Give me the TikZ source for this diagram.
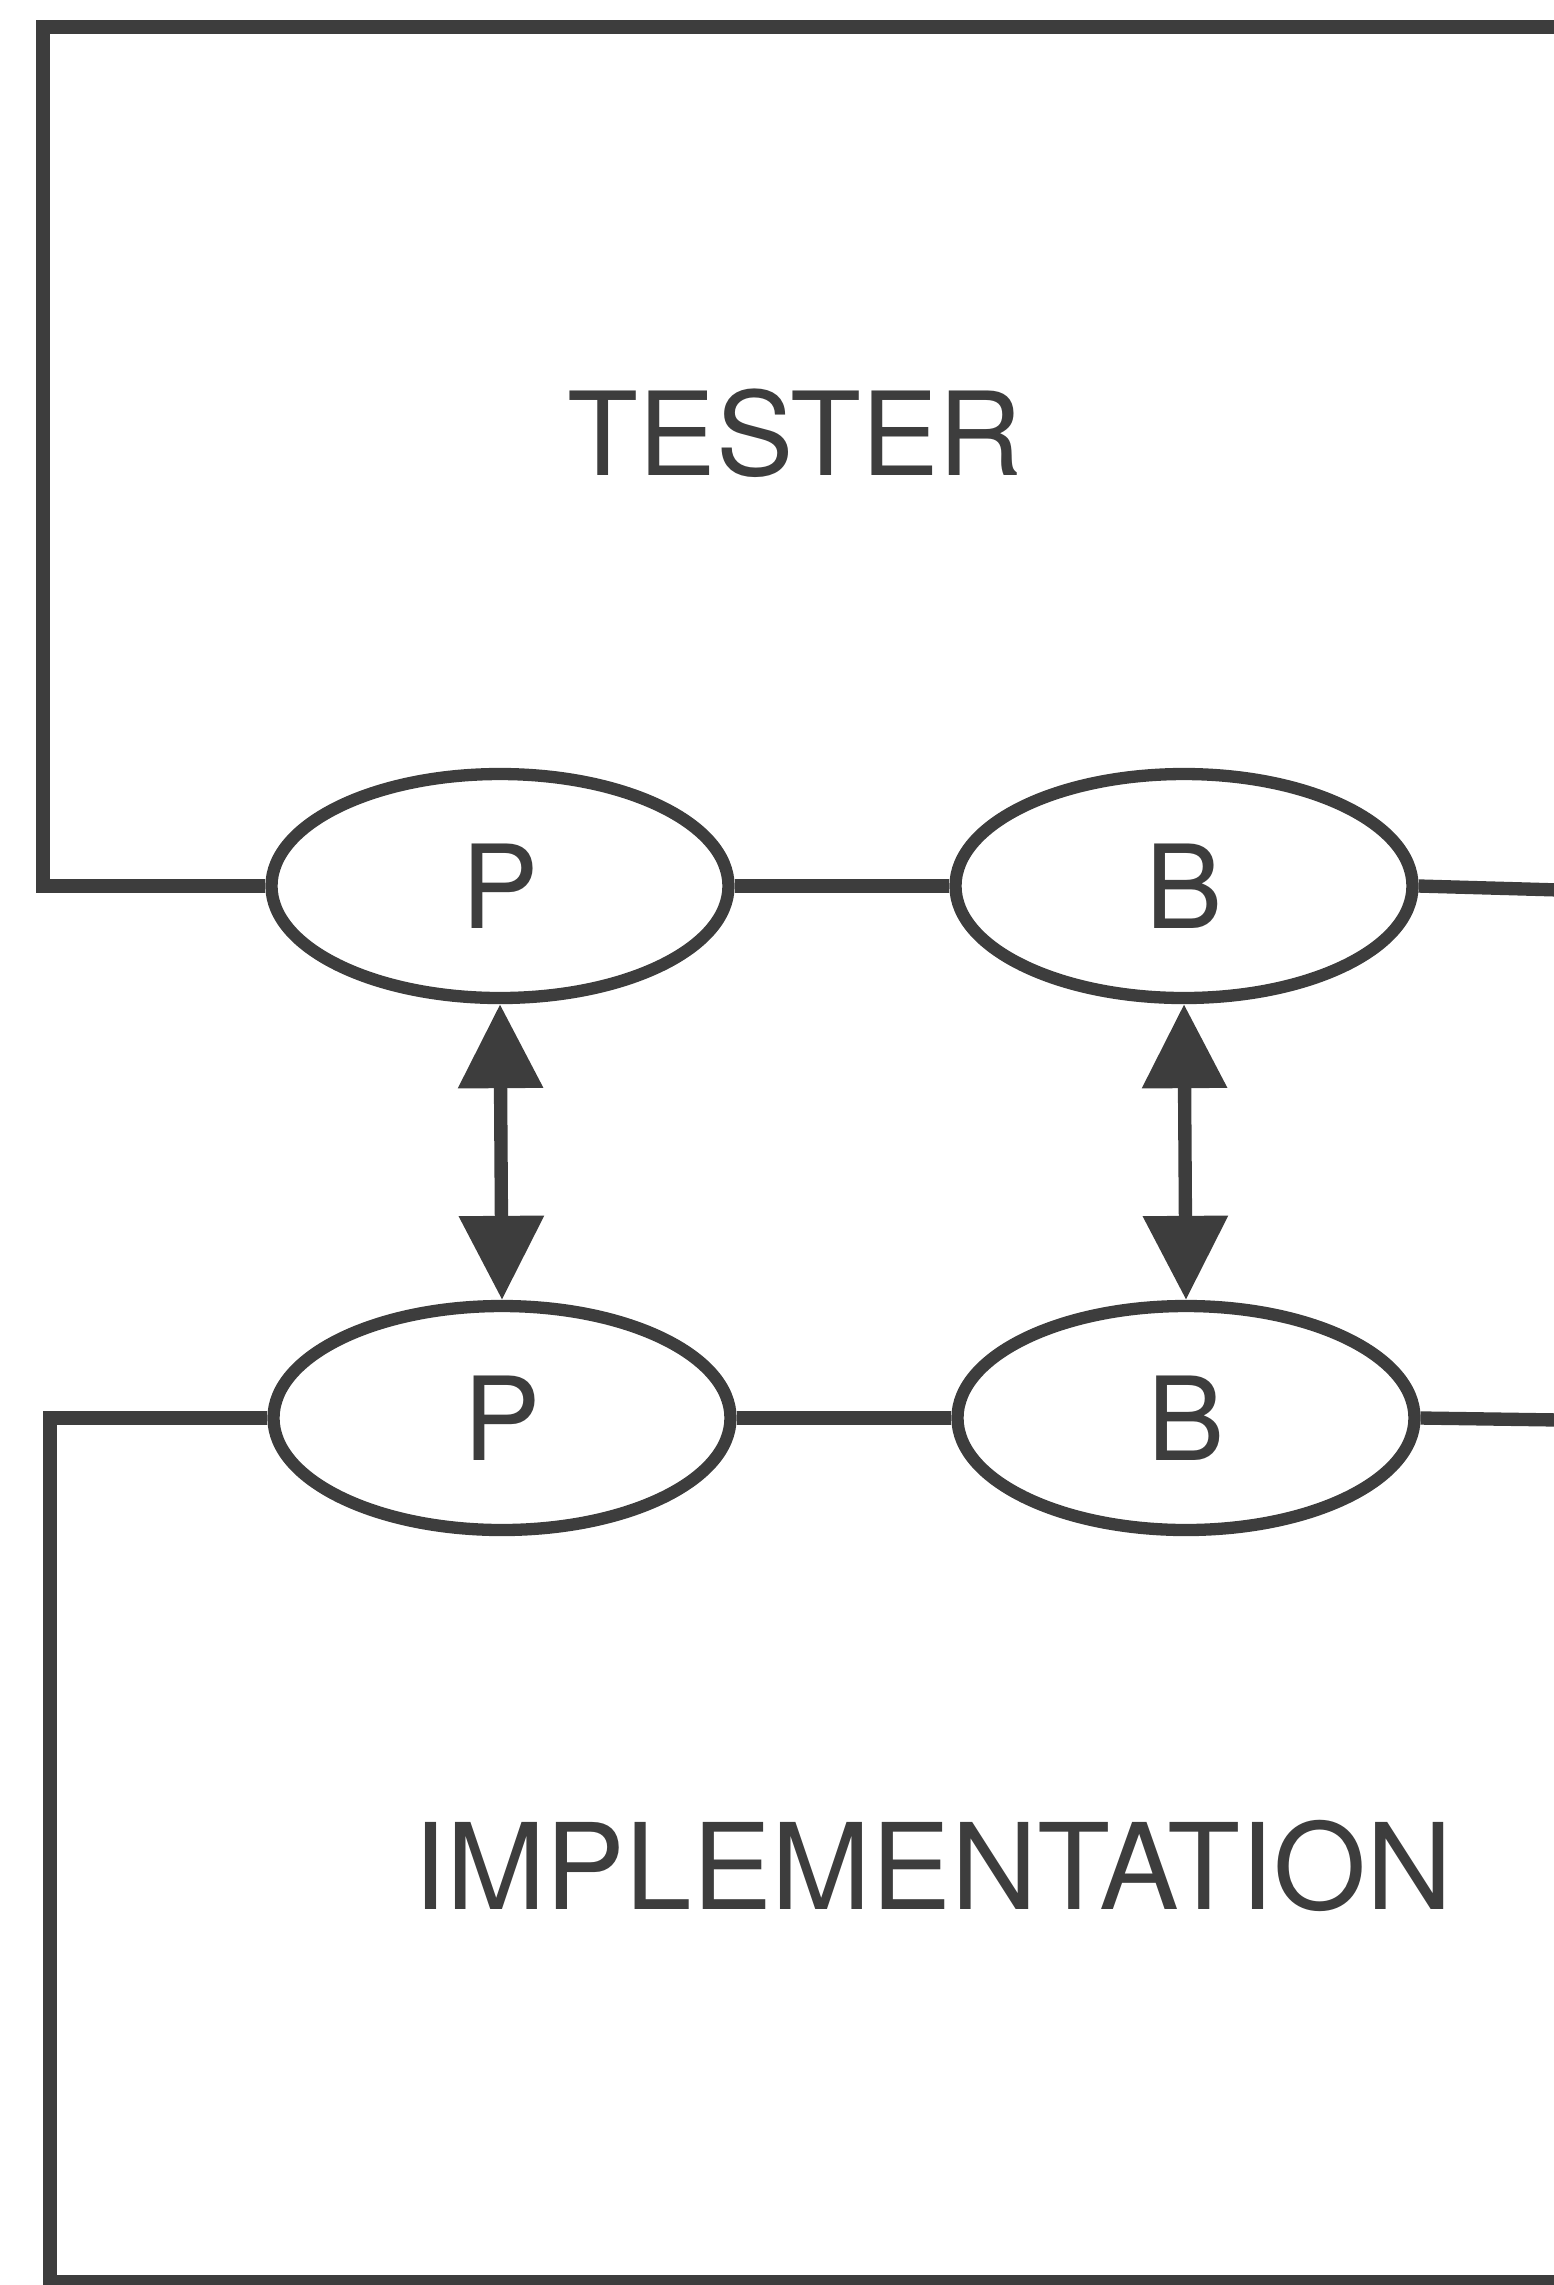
\documentclass[tikz,border=0pt]{standalone}
\usepackage{fontspec}
\setmainfont{TeX Gyre Heros}
\usepackage{tikz}
\usetikzlibrary{shapes.geometric,arrows.meta}

\definecolor{ink}{gray}{0.24}

\begin{document}
\begin{tikzpicture}[line width=3.8pt, draw=ink,
  every node/.style = {text=ink, font=\fontsize{33}{40}\selectfont},
  port/.style = {ellipse, draw=ink, line width=3.5pt,
    minimum width=4.57cm, minimum height=2.24cm, inner sep=0pt},
  link/.style = {draw=ink, line width=3.8pt,
    {Triangle[length=8.4mm,width=8.2mm]}-{Triangle[length=8.4mm,width=8.2mm]}}]
  \useasboundingbox (0,0) rectangle (15.54,-22.85);

  % points of attachment on the tester and implementation sides
  \node[port] (tP) at (5.00,-8.86) {P};
  \node[port] (tB) at (11.84,-8.86) {B};
  \node[port] (iP) at (5.02,-14.18) {P};
  \node[port] (iB) at (11.86,-14.18) {B};

  \coordinate (tl) at (0.43,-0.27);
  \coordinate (tr) at (15.60,-0.27);
  \coordinate (te) at (15.60,-8.90);
  \coordinate (bl) at (0.50,-22.82);
  \coordinate (br) at (15.60,-22.82);
  \coordinate (be) at (15.60,-14.2);

  \node (tester) at (7.95,-4.33) {TESTER};
  \node[font=\fontsize{34}{40}\selectfont] (impl) at (9.33,-18.66) {IMPLEMENTATION};

  % tester box
  \draw (tP.west) -| (tl) -- (tr);
  \draw (tP.east) -- (tB.west);
  \draw (tB.east) -- (te);

  % implementation box
  \draw (iP.west) -| (bl) -- (br);
  \draw (iP.east) -- (iB.west);
  \draw (iB.east) -- (be);

  \draw[link] (tP.south) -- (iP.north);
  \draw[link] (tB.south) -- (iB.north);
\end{tikzpicture}
\end{document}
